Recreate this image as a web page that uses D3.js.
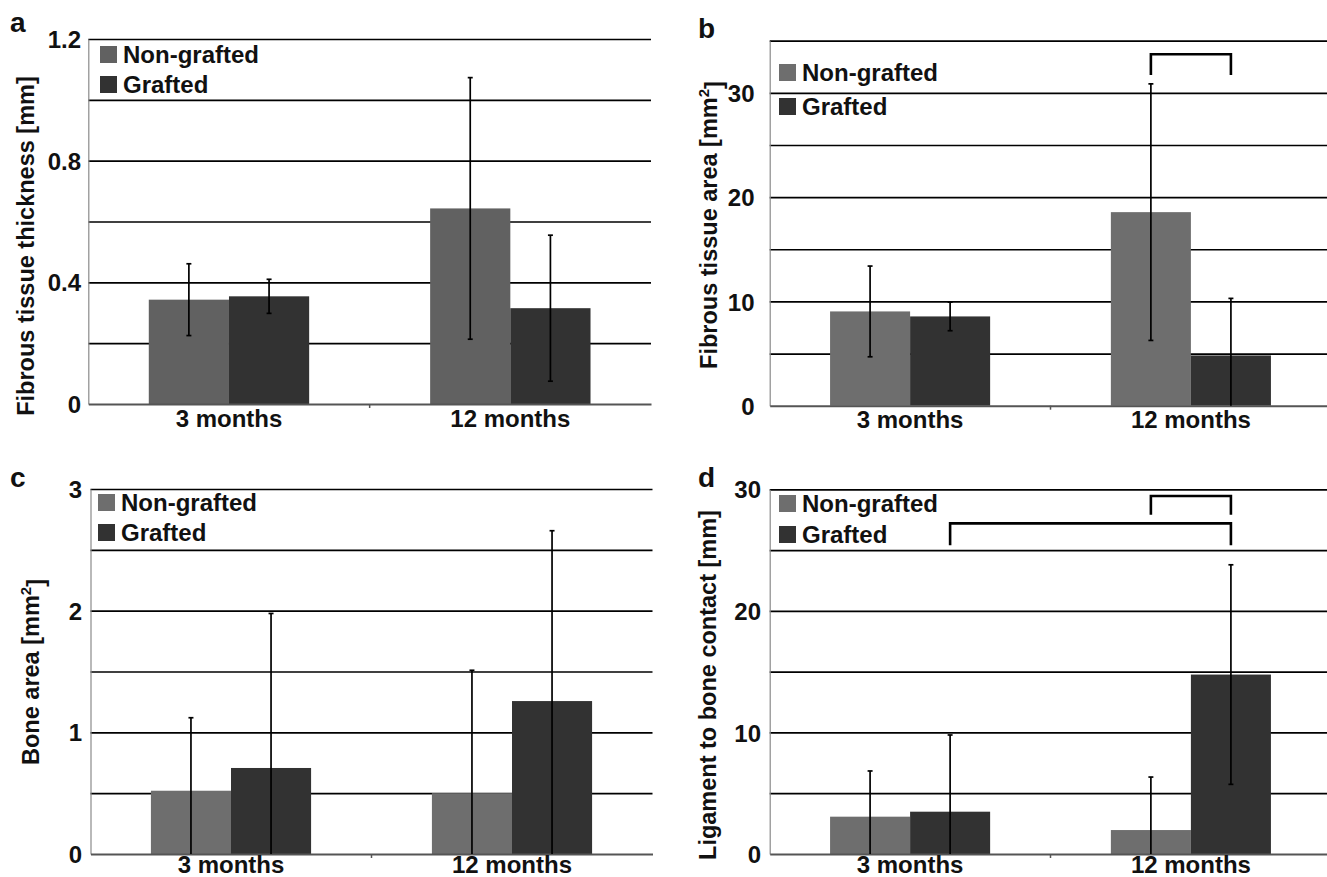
<!DOCTYPE html>
<html><head><meta charset="utf-8">
<script src="https://cdn.jsdelivr.net/npm/d3@7"></script>
<style>
html,body{margin:0;padding:0;background:#fff;overflow:hidden}
svg text{font-family:"Liberation Sans",Arial,Helvetica,sans-serif;font-weight:bold;fill:#111}
</style></head>
<body><svg id="chart" width="1327" height="877"></svg>
<script>
// ---------- data ----------
const categories = ["3 months", "12 months"];
const seriesNames = ["Non-grafted", "Grafted"];

// a: Fibrous tissue thickness [mm]
const aNonGrafted = [0.343, 0.643];
const aNonGraftedSD = [0.118, 0.43];
const aGrafted = [0.354, 0.315];
const aGraftedSD = [0.056, 0.24];
const aGridTicks = [0.2, 0.4, 0.6, 0.8, 1.0, 1.2];
const aTickLabels = [0, 0.4, 0.8, 1.2];

// b: Fibrous tissue area [mm2]
const bNonGrafted = [9.04, 18.56];
const bNonGraftedSD = [4.35, 12.3];
const bGrafted = [8.56, 4.82];
const bGraftedSD = [1.37, 5.47];
const bGridTicks = [5, 10, 15, 20, 25, 30, 35];
const bTickLabels = [0, 10, 20, 30];
// brackets: [category, series] -> [category, series], top value, leg-end value
const bBrackets = [{from: [1, 0], to: [1, 1], top: 33.7, end: 31.7}];

// c: Bone area [mm2]
const cNonGrafted = [0.52, 0.50];
const cNonGraftedSD = [0.60, 1.01];
const cGrafted = [0.707, 1.257];
const cGraftedSD = [1.27, 1.40];
const cGridTicks = [0.5, 1, 1.5, 2, 2.5, 3];
const cTickLabels = [0, 1, 2, 3];

// d: Ligament to bone contact [mm]
const dNonGrafted = [3.07, 1.97];
const dNonGraftedSD = [3.76, 4.36];
const dGrafted = [3.48, 14.76];
const dGraftedSD = [6.31, 9.03];
const dGridTicks = [5, 10, 15, 20, 25, 30];
const dTickLabels = [0, 10, 20, 30];
const dBrackets = [
  {from: [1, 0], to: [1, 1], top: 29.45, end: 27.9},
  {from: [0, 1], to: [1, 1], top: 27.2, end: 25.4}
];

// ---------- drawing ----------
const svg = d3.select("#chart");
const colorNG = "#6e6e6e", colorG = "#323232";

function drawPanel(p) {
  const g = svg.append("g");
  const x = d3.scaleBand().domain(categories).range([p.x0, p.x1])
    .paddingInner(0.43).paddingOuter(0.215);
  const xs = d3.scaleBand().domain(seriesNames).range([0, x.bandwidth()]);
  const y = d3.scaleLinear().domain([0, p.max]).range([p.yBottom, p.yTop]);

  // gridlines
  const grid = g.append("g").attr("transform", `translate(${p.x0},0)`)
    .call(d3.axisLeft(y).tickValues(p.grid).tickSize(-(p.x1 - p.x0)).tickFormat(""));
  grid.select(".domain").remove();
  grid.selectAll("line").attr("stroke", "#000").attr("stroke-width", 1.7);

  // y axis line + labels
  const ya = g.append("g").attr("transform", `translate(${p.x0},0)`)
    .call(d3.axisLeft(y).tickValues(p.labels).tickSize(0).tickPadding(p.x0 - p.labelX)
      .tickFormat(d3.format(p.fmt)));
  ya.select(".domain").attr("stroke", "#8a8a8a").attr("stroke-width", 1.2);
  ya.selectAll("text").style("font-size", "24px").attr("dy", "0.36em").attr("fill", "#111");

  // bars
  const rows = [];
  categories.forEach((c, i) => {
    rows.push({c, s: seriesNames[0], v: p.ng[i], sd: p.ngSD[i], col: p.ngColor || colorNG});
    rows.push({c, s: seriesNames[1], v: p.gr[i], sd: p.grSD[i], col: colorG});
  });
  g.append("g").selectAll("rect").data(rows).join("rect")
    .attr("x", d => x(d.c) + xs(d.s)).attr("width", xs.bandwidth())
    .attr("y", d => y(d.v)).attr("height", d => y(0) - y(d.v))
    .attr("fill", d => d.col);

  // x axis
  const xa = g.append("g").attr("transform", `translate(0,${p.yBottom})`)
    .call(d3.axisBottom(x).tickSize(0));
  xa.select(".domain").attr("stroke", "#555").attr("stroke-width", 2);
  xa.selectAll("text").style("font-size", "24px").attr("y", p.catBase).attr("dy", "0").attr("fill", "#111");
  g.append("line").attr("x1", p.x0 + x.step()).attr("x2", p.x0 + x.step())
    .attr("y1", p.yBottom).attr("y2", p.yBottom + 4).attr("stroke", "#555").attr("stroke-width", 1.5);

  // error bars
  const eb = g.append("g").attr("stroke", "#000").attr("stroke-width", 1.7);
  rows.forEach(d => {
    const cx = x(d.c) + xs(d.s) + xs.bandwidth() / 2;
    const lo = Math.max(0, d.v - d.sd), hi = d.v + d.sd;
    eb.append("line").attr("x1", cx).attr("x2", cx).attr("y1", y(lo)).attr("y2", y(hi));
    eb.append("line").attr("x1", cx - 2.5).attr("x2", cx + 2.5).attr("y1", y(hi)).attr("y2", y(hi));
    if (lo > 0) eb.append("line").attr("x1", cx - 2.5).attr("x2", cx + 2.5).attr("y1", y(lo)).attr("y2", y(lo));
  });

  // significance brackets
  (p.brackets || []).forEach(b => {
    const bx = ([ci, si]) => x(categories[ci]) + xs(seriesNames[si]) + xs.bandwidth() / 2;
    const xa1 = bx(b.from), xa2 = bx(b.to);
    g.append("path")
      .attr("d", `M${xa1},${y(b.end)}V${y(b.top)}H${xa2}V${y(b.end)}`)
      .attr("fill", "none").attr("stroke", "#000").attr("stroke-width", 2.6);
  });

  // legend
  const lg = g.append("g");
  seriesNames.forEach((s, i) => {
    lg.append("rect").attr("x", p.legX).attr("y", p.legY[i] - 17).attr("width", 17).attr("height", 17)
      .attr("fill", i === 0 ? (p.ngColor || colorNG) : colorG);
    lg.append("text").attr("x", p.legX + 23).attr("y", p.legY[i]).style("font-size", "24px").text(s);
  });

  // y axis title
  const t = g.append("text")
    .attr("transform", `translate(${p.titleX},${p.titleY}) rotate(-90)`)
    .attr("text-anchor", "middle").style("font-size", "23.5px");
  t.append("tspan").text(p.title);
  if (p.sup) {
    t.append("tspan").attr("dy", "-0.55em").style("font-size", "15px").text(p.sup);
    t.append("tspan").attr("dy", "0.55em").text(p.titleEnd);
  }

  // panel letter
  g.append("text").attr("x", p.letterX).attr("y", p.letterY).style("font-size", "28px").text(p.letter);
}

drawPanel({
  letter: "a", letterX: 10, letterY: 32,
  x0: 88.3, x1: 651, yTop: 39, yBottom: 404, max: 1.2,
  grid: aGridTicks, labels: aTickLabels, fmt: "", labelX: 81, catBase: 23,
  ng: aNonGrafted, ngSD: aNonGraftedSD, gr: aGrafted, grSD: aGraftedSD, ngColor: "#616161",
  legX: 100, legY: [63, 93],
  title: "Fibrous tissue thickness [mm]", titleX: 34, titleY: 246
});
drawPanel({
  letter: "b", letterX: 698, letterY: 38,
  x0: 769.7, x1: 1331.3, yTop: 40.7, yBottom: 405.7, max: 35,
  grid: bGridTicks, labels: bTickLabels, fmt: "d", labelX: 754.5, catBase: 22,
  ng: bNonGrafted, ngSD: bNonGraftedSD, gr: bGrafted, grSD: bGraftedSD,
  brackets: bBrackets,
  legX: 779, legY: [81, 115],
  title: "Fibrous tissue area [mm", sup: "2", titleEnd: "]", titleX: 717, titleY: 225
});
drawPanel({
  letter: "c", letterX: 10, letterY: 487,
  x0: 90.5, x1: 652.5, yTop: 489, yBottom: 854, max: 3,
  grid: cGridTicks, labels: cTickLabels, fmt: "d", labelX: 82, catBase: 19,
  ng: cNonGrafted, ngSD: cNonGraftedSD, gr: cGrafted, grSD: cGraftedSD,
  legX: 98, legY: [511, 541],
  title: "Bone area [mm", sup: "2", titleEnd: "]", titleX: 39, titleY: 672
});
drawPanel({
  letter: "d", letterX: 698, letterY: 487,
  x0: 769.7, x1: 1331.3, yTop: 489.3, yBottom: 854, max: 30,
  grid: dGridTicks, labels: dTickLabels, fmt: "d", labelX: 761, catBase: 19,
  ng: dNonGrafted, ngSD: dNonGraftedSD, gr: dGrafted, grSD: dGraftedSD,
  brackets: dBrackets,
  legX: 779, legY: [512, 543],
  title: "Ligament to bone contact [mm]", titleX: 716, titleY: 685
});
</script>
</body></html>
